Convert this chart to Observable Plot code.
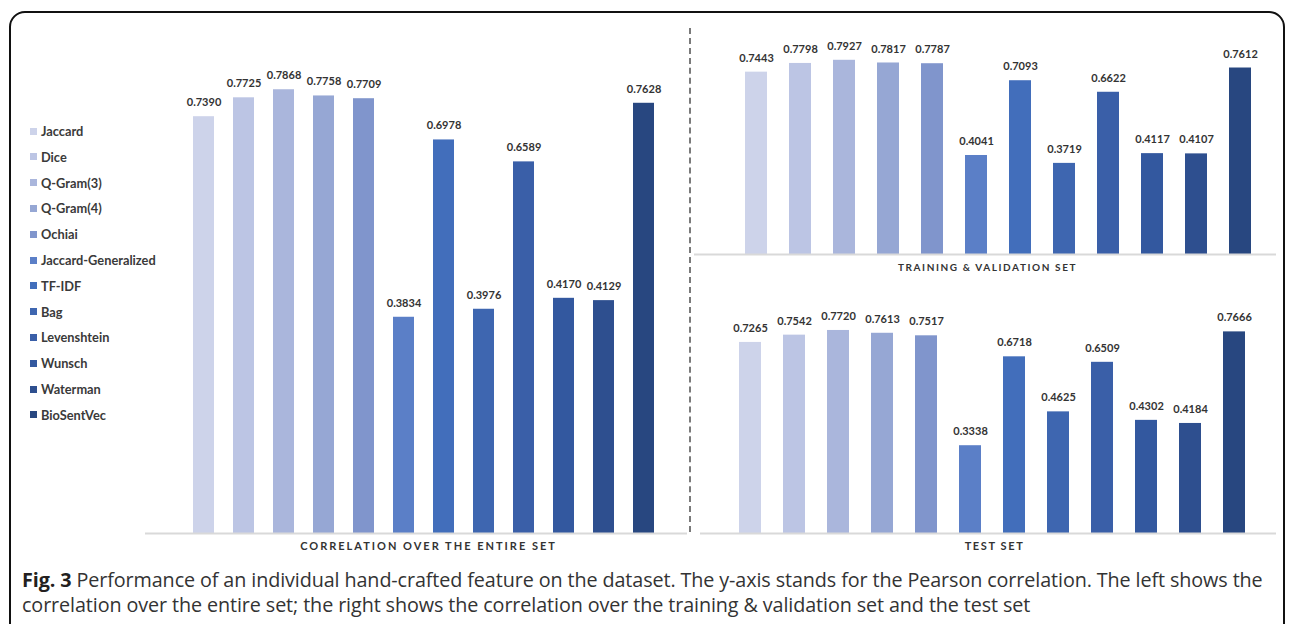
<!DOCTYPE html>
<html>
<head>
<meta charset="utf-8">
<script src="https://cdn.jsdelivr.net/npm/d3@7"></script>
<script src="https://cdn.jsdelivr.net/npm/@observablehq/plot@0.6"></script>
<style>
  html, body { margin: 0; padding: 0; background: #fff; }
  #root { position: relative; width: 1292px; height: 624px; overflow: hidden; background: #fff; }
  #frame { position: absolute; left: 9px; top: 11px; width: 1276px; height: 700px; border: 2px solid #111; border-radius: 16px; box-sizing: border-box; }
  .panel { position: absolute; }
  #divider { position: absolute; left: 689px; top: 28px; height: 504px; border-left: 2px dashed #7a7a7a; }
  #legend { position: absolute; left: 30px; top: 0; font-family: Lato, sans-serif; font-weight: 700; font-size: 12.8px; color: #3a3a3a; }
  .lg-item { position: absolute; left: 0; white-space: nowrap; display: flex; align-items: center; }
  .lg-sw { width: 7px; height: 7px; margin-right: 4px; display: inline-block; }
  #caption { position: absolute; left: 22px; top: 567px; font-family: "Open Sans", sans-serif; font-size: 19.75px; line-height: 25px; color: #333; white-space: nowrap; letter-spacing: -0.1px; }
  #caption b { color: #231f20; font-weight: 700; }
</style>
</head>
<body>
<div id="root">
  <div id="frame"></div>
  <div id="legend"></div>
  <div id="divider"></div>
  <div id="caption"><b>Fig. 3</b> Performance of an individual hand-crafted feature on the dataset. The y-axis stands for the Pearson correlation. The left shows the<br>correlation over the entire set; the right shows the correlation over the training &amp; validation set and the test set</div>
</div>
<script>
// ---- data ----
const methods = ["Jaccard", "Dice", "Q-Gram(3)", "Q-Gram(4)", "Ochiai", "Jaccard-Generalized", "TF-IDF", "Bag", "Levenshtein", "Wunsch", "Waterman", "BioSentVec"];
const colors = ["#cdd3ea", "#bcc5e4", "#aab6dc", "#96a7d4", "#8095cc", "#5b7fc7", "#426ebb", "#3e66b0", "#3a5fa8", "#33589f", "#2e4f8f", "#284780"];
const entireSet = [0.7390, 0.7725, 0.7868, 0.7758, 0.7709, 0.3834, 0.6978, 0.3976, 0.6589, 0.4170, 0.4129, 0.7628];
const trainValSet = [0.7443, 0.7798, 0.7927, 0.7817, 0.7787, 0.4041, 0.7093, 0.3719, 0.6622, 0.4117, 0.4107, 0.7612];
const testSet = [0.7265, 0.7542, 0.7720, 0.7613, 0.7517, 0.3338, 0.6718, 0.4625, 0.6509, 0.4302, 0.4184, 0.7666];
const titles = ["CORRELATION OVER THE ENTIRE SET", "TRAINING & VALIDATION SET", "TEST SET"];

const root = document.getElementById("root");

function panel(values, title, L) {
  const data = methods.map((m, i) => ({method: m, value: values[i]}));
  const svg = Plot.plot({
    width: L.width,
    height: L.height,
    marginLeft: 0, marginRight: 0, marginTop: 0, marginBottom: L.mb,
    style: {fontFamily: "Lato, sans-serif", fontSize: "11px", background: "transparent"},
    x: {domain: methods, range: [L.r0, L.r1], padding: L.pad, axis: null},
    y: {domain: [0, 1], range: [L.height - L.mb, L.height - L.mb - L.k], axis: null},
    color: {domain: methods, range: colors},
    marks: [
      Plot.barY(data, {x: "method", y: "value", fill: "method"}),
      Plot.ruleY([0], {stroke: "#d9d9d9", strokeWidth: 2}),
      Plot.text(data, {x: "method", y: "value", text: d => d.value.toFixed(4), dy: -14, fontWeight: "bold", fontSize: 11, fill: "#333"}),
      Plot.text([title], {frameAnchor: "bottom", dx: L.tdx, dy: L.tdy, fontWeight: "bold", fontSize: L.tfs, fill: "#333"})
    ]
  });
  d3.select(svg).selectAll("text").filter(function() { return this.textContent === title; })
    .attr("letter-spacing", L.tls + "px");
  const div = document.createElement("div");
  div.className = "panel";
  div.style.left = L.left + "px";
  div.style.top = L.top + "px";
  div.appendChild(svg);
  root.appendChild(div);
}

panel(entireSet, titles[0], {left: 145, top: 40, width: 542, height: 520, mb: 27, k: 564, r0: 27.3, r1: 529, pad: 0.48, tdx: 12, tdy: 16, tfs: 11, tls: 2});
panel(trainValSet, titles[1], {left: 694, top: 20, width: 582, height: 270, mb: 36, k: 245, r0: 29.2, r1: 578.8, pad: 0.49, tdx: 2, tdy: 16, tfs: 10, tls: 1.6});
panel(testSet, titles[2], {left: 700, top: 290, width: 576, height: 270, mb: 27, k: 263, r0: 17.1, r1: 567.9, pad: 0.49, tdx: 6, tdy: 16, tfs: 11, tls: 1.6});

// legend
const legend = d3.select("#legend");
methods.forEach((m, i) => {
  const item = legend.append("div").attr("class", "lg-item").style("top", (123 + i * 25.8) + "px");
  item.append("span").attr("class", "lg-sw").style("background", colors[i]);
  item.append("span").text(m);
});
</script>
</body>
</html>
